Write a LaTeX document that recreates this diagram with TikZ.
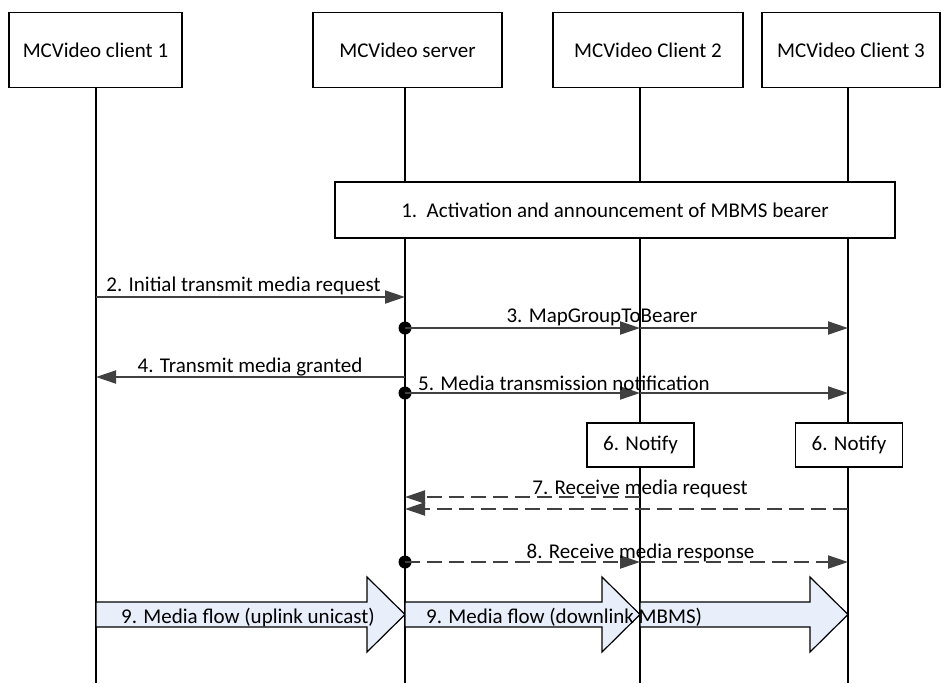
\documentclass[tikz,border=0pt]{standalone}
\usepackage{fontspec}
\setmainfont{Carlito}
\usetikzlibrary{arrows.meta,calc,positioning}

\definecolor{flowblue}{RGB}{232,238,250}
\definecolor{msggray}{RGB}{64,64,64}

\begin{document}
\begin{tikzpicture}[x=1pt,y=-1pt,
  entity/.style={draw,line width=1.2pt,fill=white,minimum height=74.5pt,inner sep=0pt,font=\fontsize{21}{25}\selectfont},
  action/.style={draw,line width=1.2pt,fill=white,inner sep=0pt,font=\fontsize{21}{25}\selectfont},
  life/.style={line width=1.2pt},
  msg/.style={draw=msggray,line width=2pt,-{Triangle[length=20pt,width=13pt]}},
  dmsg/.style={msg,dash pattern=on 15pt off 7pt},
  lbl/.style={font=\fontsize{21}{25}\selectfont,inner sep=0pt,anchor=base},
  origin/.style={fill=black},
  flow/.style={draw,line width=1.2pt,fill=flowblue}]
  \useasboundingbox (0,0) rectangle (941,683);

  % entities
  \node[entity,minimum width=173pt] (c1) at (95.5,50) {MCVideo client 1};
  \node[entity,minimum width=189pt] (srv) at (407.5,50) {MCVideo server};
  \node[entity,minimum width=190pt] (c2) at (648,50) {MCVideo Client 2};
  \node[entity,minimum width=178pt] (c3) at (851,50) {MCVideo Client 3};

  % lifelines
  \coordinate (l1) at (96,87);
  \coordinate (l2) at (405,87);
  \coordinate (l3) at (640,87);
  \coordinate (l4) at (848,87);
  \foreach \l in {l1,l2,l3,l4}
    \draw[life] (\l) -- (\l |- 0,683);

  % step 1
  \node[action,minimum width=560pt,minimum height=56pt] (act) at (615,210)
    {1.\ \ Activation and announcement of MBMS bearer};

  % steps 2 to 5
  \draw[msg] (l1 |- 0,297) -- (l2 |- 0,297);
  \node[lbl] (t2) at (243.5,291) {2. Initial transmit media request};

  \fill[origin] (l2 |- 0,328) circle (6.5pt);
  \draw[msg] (l2 |- 0,328) -- (l3 |- 0,328);
  \draw[msg] (l3 |- 0,328) -- (l4 |- 0,328);
  \node[lbl] (t3) at (602,322) {3. MapGroupToBearer};

  \draw[msg] (l2 |- 0,377) -- (l1 |- 0,377);
  \node[lbl] (t4) at (250,372) {4. Transmit media granted};

  \fill[origin] (l2 |- 0,393) circle (6.5pt);
  \draw[msg] (l2 |- 0,393) -- (l3 |- 0,393);
  \draw[msg] (l3 |- 0,393) -- (l4 |- 0,393);
  \node[lbl] (t5) at (564,390) {5. Media transmission notification};

  % step 6
  \node[action,minimum width=107pt,minimum height=44pt] (n2) at (640.5,445) {6. Notify};
  \node[action,minimum width=107pt,minimum height=44pt] (n3) at (849,445) {6. Notify};

  % steps 7 and 8
  \draw[dmsg] (l3 |- 0,497) -- (l2 |- 0,497);
  \draw[dmsg] (l4 |- 0,509) -- (l2 |- 0,509);
  \node[lbl] (t7) at (640,494) {7. Receive media request};

  \fill[origin] (l2 |- 0,562) circle (6.5pt);
  \draw[dmsg] (l2 |- 0,562) -- (l3 |- 0,562);
  \draw[dmsg] (l3 |- 0,562) -- (l4 |- 0,562);
  \node[lbl] (t8) at (640.5,558) {8. Receive media response};

  % step 9
  \foreach \a/\b in {l1/l2,l2/l3,l3/l4}
    \draw[flow] (\a |- 0,602) -- ($(\b |- 0,602)+(-38,0)$) -- ($(\b |- 0,577)+(-38,0)$)
      -- (\b |- 0,614.5) -- ($(\b |- 0,652)+(-38,0)$) -- ($(\b |- 0,627)+(-38,0)$)
      -- (\a |- 0,627) -- cycle;
  \node[lbl,anchor=base west] (t9a) at (121,623) {9. Media flow (uplink unicast)};
  \node[lbl,anchor=base west] (t9b) at (426,623) {9. Media flow (downlink MBMS)};
\end{tikzpicture}
\end{document}
